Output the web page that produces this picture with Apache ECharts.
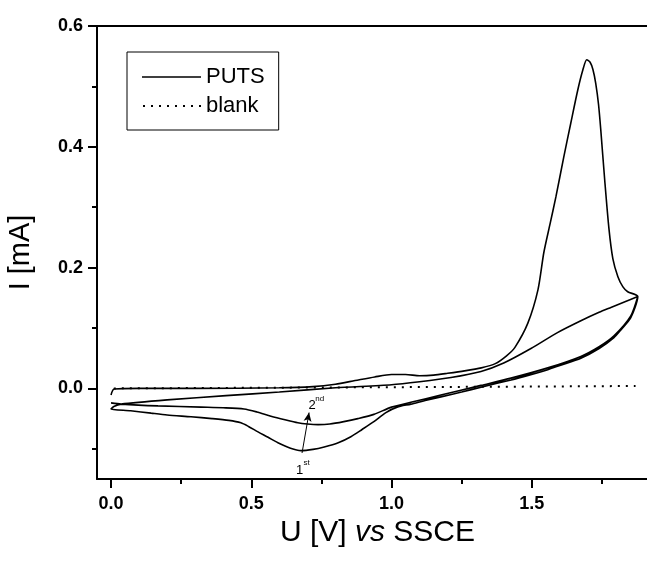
<!DOCTYPE html>
<html>
<head>
<meta charset="utf-8">
<script src="https://cdn.jsdelivr.net/npm/echarts@6/dist/echarts.min.js"></script>
<style>
html,body{margin:0;padding:0;background:#fff;overflow:hidden;}
#c{width:647px;height:562px;}
</style>
</head>
<body>
<div id="c"></div>
<script>
// ---- tick values ----
const xTickMajor = [0, 0.5, 1.0, 1.5];
const xTickMinor = [0.25, 0.75, 1.25, 1.75];
const yTickMajor = [0, 0.2, 0.4, 0.6];
const yTickMinor = [-0.1, 0.1, 0.3, 0.5];

// ---- PUTS cyclic voltammogram (U [V], I [mA]) ----
const putsAnodic1 = [[0,-0.011],[0.011,-0.001],[0.1,0],[0.3,0],[0.6,0.001],[0.72,0.003],[0.8,0.007],[0.87,0.013],[0.94,0.019],[1.0,0.023],[1.05,0.023],[1.1,0.021],[1.15,0.022],[1.2,0.025],[1.26,0.029],[1.32,0.034],[1.37,0.041],[1.41,0.054],[1.44,0.068],[1.486,0.108],[1.522,0.163],[1.543,0.225],[1.565,0.272],[1.586,0.317],[1.614,0.383],[1.639,0.439],[1.664,0.494],[1.682,0.527],[1.696,0.544],[1.708,0.540],[1.718,0.528],[1.728,0.505],[1.738,0.470],[1.746,0.428],[1.760,0.345],[1.775,0.265],[1.789,0.215],[1.807,0.185],[1.825,0.168],[1.842,0.160],[1.878,0.152]];
const putsCathodic1 = [[1.878,0.152],[1.853,0.117],[1.82,0.098],[1.793,0.084],[1.74,0.066],[1.675,0.050],[1.6,0.038],[1.557,0.031],[1.49,0.022],[1.426,0.014],[1.319,0.002],[1.25,-0.006],[1.176,-0.014],[1.12,-0.020],[1.069,-0.026],[1.02,-0.031],[0.98,-0.040],[0.937,-0.055],[0.895,-0.068],[0.855,-0.080],[0.81,-0.090],[0.76,-0.097],[0.72,-0.101],[0.677,-0.103],[0.64,-0.099],[0.595,-0.090],[0.56,-0.081],[0.524,-0.072],[0.49,-0.063],[0.463,-0.057],[0.42,-0.053],[0.36,-0.050],[0.285,-0.047],[0.2,-0.044],[0.143,-0.041],[0.07,-0.037],[0,-0.034]];
const putsAnodic2 = [[0,-0.034],[0.01,-0.030],[0.036,-0.026],[0.2,-0.019],[0.41,-0.012],[0.6,-0.006],[0.8,0.001],[1.0,0.006],[1.1,0.011],[1.212,0.018],[1.319,0.028],[1.4,0.042],[1.497,0.066],[1.59,0.092],[1.675,0.112],[1.74,0.126],[1.782,0.134],[1.83,0.143],[1.878,0.152]];
const putsCathodic2 = [[1.878,0.152],[1.853,0.120],[1.793,0.087],[1.74,0.069],[1.675,0.053],[1.557,0.034],[1.426,0.017],[1.319,0.005],[1.176,-0.011],[1.069,-0.023],[1.0,-0.031],[0.937,-0.043],[0.88,-0.050],[0.83,-0.055],[0.78,-0.059],[0.738,-0.060],[0.7,-0.059],[0.666,-0.057],[0.62,-0.052],[0.57,-0.046],[0.52,-0.039],[0.474,-0.034],[0.4,-0.032],[0.321,-0.031],[0.167,-0.029],[0.036,-0.026],[0,-0.024]];

// ---- blank ----
const blank = [[0.01,0.000],[0.5,0.001],[1.0,0.002],[1.5,0.003],[1.87,0.004]];

// ---- annotations (data coords) ----
const arrowFrom = [0.681, -0.107];
const arrowTo = [0.706, -0.040];
const lbl2 = [0.717, -0.029];
const lbl2sup = [0.744, -0.017];
const lbl1 = [0.672, -0.136];
const lbl1sup = [0.697, -0.124];

const puts = putsAnodic1
  .concat(putsCathodic1.slice(1))
  .concat(putsAnodic2.slice(1))
  .concat(putsCathodic2.slice(1));

const FONT = '"Liberation Sans", Arial, Helvetica, sans-serif';
const chart = echarts.init(document.getElementById('c'), null, {renderer: 'canvas'});

const xBase = {type: 'value', min: -0.05, max: 1.95, gridIndex: 0, splitLine: {show: false}};
const yBase = {type: 'value', min: -0.15, max: 0.6, gridIndex: 0, splitLine: {show: false}};

// legend icons: line centred in a 59x12 box (tiny corner specks fix the box)
const BOX = ' M0,0H0.01V0.01H0Z M58.99,11.99H59V12H58.99Z';
let dots = '';
for (let i = 0; i < 8; i++) { const a = 1 + i * 8; dots += ' M' + a + ',5.1H' + (a + 2) + 'V6.9H' + a + 'Z'; }
const iconSolid = 'path://M0,5.2H59V6.8H0Z' + BOX;
const iconDotted = 'path://' + dots.trim() + BOX;

chart.setOption({
  animation: false,
  backgroundColor: '#fff',
  grid: {left: 97, top: 26, width: 561, height: 453, containLabel: false, outerBoundsMode: 'none'},
  legend: {
    left: 127, top: 52, orient: 'vertical', selectedMode: false,
    borderColor: '#000', borderWidth: 1,
    padding: [14, 14, 13, 15],
    itemWidth: 59, itemHeight: 12, itemGap: 7,
    textStyle: {fontFamily: FONT, fontSize: 22, color: '#000'},
    data: [
      {name: 'PUTS', icon: iconSolid, itemStyle: {color: '#000'}},
      {name: 'blank', icon: iconDotted, itemStyle: {color: '#000'}}
    ]
  },
  xAxis: [
    Object.assign({}, xBase, {
      position: 'bottom',
      axisLine: {show: true, onZero: false, lineStyle: {color: '#000', width: 2}},
      axisTick: {show: true, inside: false, length: 9, customValues: xTickMajor, lineStyle: {color: '#000', width: 2}},
      axisLabel: {show: true, customValues: xTickMajor, margin: 16, color: '#000', fontFamily: FONT, fontWeight: 'bold', fontSize: 18,
        formatter: v => v.toFixed(1)},
      name: 'U [V] {i|vs} SSCE', nameLocation: 'middle', nameGap: 35,
      nameTextStyle: {fontFamily: FONT, fontSize: 30, color: '#000', rich: {i: {fontFamily: FONT, fontSize: 30, fontStyle: 'italic', color: '#000'}}}
    }),
    Object.assign({}, xBase, {
      position: 'bottom',
      axisLine: {show: false, onZero: false},
      axisTick: {show: true, inside: false, length: 5, customValues: xTickMinor, lineStyle: {color: '#000', width: 2}},
      axisLabel: {show: false}
    }),
    Object.assign({}, xBase, {
      position: 'top',
      axisLine: {show: true, onZero: false, lineStyle: {color: '#000', width: 2}},
      axisTick: {show: false}, axisLabel: {show: false}
    })
  ],
  yAxis: [
    Object.assign({}, yBase, {
      position: 'left',
      axisLine: {show: true, onZero: false, lineStyle: {color: '#000', width: 2}},
      axisTick: {show: true, inside: false, length: 9, customValues: yTickMajor, lineStyle: {color: '#000', width: 2}},
      axisLabel: {show: true, customValues: yTickMajor, margin: 14, color: '#000', fontFamily: FONT, fontWeight: 'bold', fontSize: 18,
        formatter: v => v.toFixed(1)},
      name: 'I [mA]', nameLocation: 'middle', nameGap: 62,
      nameTextStyle: {fontFamily: FONT, fontSize: 29, color: '#000'}
    }),
    Object.assign({}, yBase, {
      position: 'left',
      axisLine: {show: false, onZero: false},
      axisTick: {show: true, inside: false, length: 5, customValues: yTickMinor, lineStyle: {color: '#000', width: 2}},
      axisLabel: {show: false}
    })
  ],
  series: [
    {
      name: 'PUTS', type: 'line', xAxisIndex: 0, yAxisIndex: 0,
      data: puts, showSymbol: false, symbol: 'none', smooth: 0.25,
      lineStyle: {color: '#000', width: 1.6}, itemStyle: {color: '#000'}
    },
    {
      name: 'blank', type: 'line', xAxisIndex: 0, yAxisIndex: 0,
      data: blank, showSymbol: false, symbol: 'none',
      lineStyle: {color: '#000', width: 2, type: [2, 6]}, itemStyle: {color: '#000'},
      markLine: {
        silent: true, symbol: ['none', 'arrow'], symbolSize: [6, 9],
        label: {show: false},
        lineStyle: {color: '#000', width: 1, type: 'solid'},
        data: [[{coord: arrowFrom}, {coord: arrowTo}]]
      }
    }
  ]
});

function px(p) { return chart.convertToPixel({xAxisIndex: 0, yAxisIndex: 0}, p); }
function txt(p, s, size) {
  const q = px(p);
  return {type: 'text', x: q[0], y: q[1], style: {text: s, fontFamily: FONT, fontSize: size, fill: '#000', align: 'center', verticalAlign: 'middle'}, silent: true};
}
chart.setOption({
  graphic: [
    txt(lbl2, '2', 13), txt(lbl2sup, 'nd', 8),
    txt(lbl1, '1', 13), txt(lbl1sup, 'st', 8)
  ]
});
</script>
</body>
</html>
